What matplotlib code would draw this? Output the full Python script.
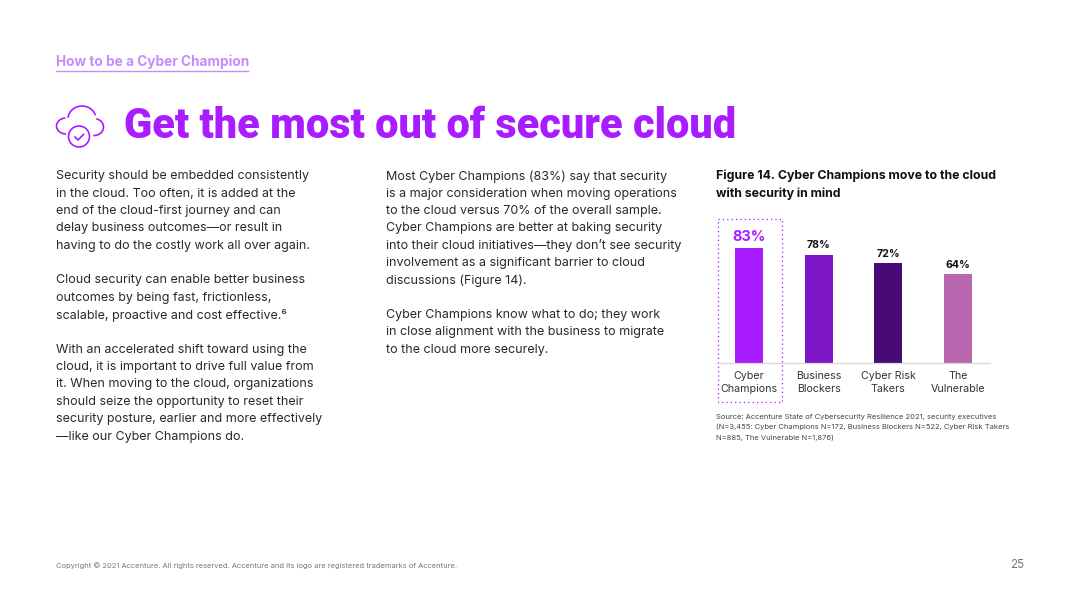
import matplotlib
matplotlib.use("Agg")
import matplotlib.pyplot as plt
from matplotlib.patches import Arc, Circle, Rectangle

plt.rcParams["font.family"] = ["Inter", "Noto Sans", "DejaVu Sans"]

categories = ["Cyber\nChampions", "Business\nBlockers", "Cyber Risk\nTakers", "The\nVulnerable"]
values = [83, 78, 72, 64]
bar_colors = ["#A81CFF", "#7F17C9", "#4A0A75", "#B866AE"]

column_1 = [
    "Security should be embedded consistently",
    "in the cloud. Too often, it is added at the",
    "end of the cloud-first journey and can",
    "delay business outcomes\u2014or result in",
    "having to do the costly work all over again.",
    "",
    "Cloud security can enable better business",
    "outcomes by being fast, frictionless,",
    "scalable, proactive and cost effective.\u2076",
    "",
    "With an accelerated shift toward using the",
    "cloud, it is important to drive full value from",
    "it. When moving to the cloud, organizations",
    "should seize the opportunity to reset their",
    "security posture, earlier and more effectively",
    "\u2014like our Cyber Champions do.",
]
column_2 = [
    "Most Cyber Champions (83%) say that security",
    "is a major consideration when moving operations",
    "to the cloud versus 70% of the overall sample.",
    "Cyber Champions are better at baking security",
    "into their cloud initiatives\u2014they don\u2019t see security",
    "involvement as a significant barrier to cloud",
    "discussions (Figure 14).",
    "",
    "Cyber Champions know what to do; they work",
    "in close alignment with the business to migrate",
    "to the cloud more securely.",
]
source_lines = [
    "Source: Accenture State of Cybersecurity Resilience 2021, security executives",
    "(N=3,455: Cyber Champions N=172, Business Blockers N=522, Cyber Risk Takers",
    "N=885, The Vulnerable N=1,876)",
]

fig = plt.figure(figsize=(10.8, 6.09), dpi=100, facecolor="white")

# page layer in pixel coordinates for all the slide text
page = fig.add_axes([0, 0, 1, 1])
page.set_xlim(0, 1080)
page.set_ylim(609, 0)
page.axis("off")

PURPLE = "#A81CFF"
DARK = "#2a2a2a"

page.text(56, 61.5, "How to be a Cyber Champion", color="#C58BFF", fontsize=9.8,
          fontweight="bold", va="center")
page.plot([56, 248], [70.5, 70.5], color="#C58BFF", lw=1)
page.text(124, 126, "Get the most out of secure cloud", color=PURPLE, fontsize=29.9,
          fontweight="black", va="center", family=["Roboto", "DejaVu Sans"])

# cloud icon
icon = dict(color=PURPLE, lw=1.2, fill=False)
page.add_patch(Arc((82, 119), 28, 26, theta1=185, theta2=345, **icon))
page.add_patch(Arc((66, 126), 19, 16, theta1=90, theta2=265, **icon))
page.add_patch(Arc((94, 127), 19, 17, theta1=-75, theta2=95, **icon))
page.add_patch(Circle((79, 136.5), 10.5, **icon))
page.plot([75, 78, 83.5], [137, 140, 134.5], color=PURPLE, lw=1.2)

for i, line in enumerate(column_1):
    page.text(56, 176.3 + i * 17.35, line, color=DARK, fontsize=9.0, va="center")
for i, line in enumerate(column_2):
    page.text(386, 176.3 + i * 17.35, line, color=DARK, fontsize=9.0, va="center")

page.text(716, 176, "Figure 14. Cyber Champions move to the cloud", color="#111111",
          fontsize=8.9, fontweight="bold", va="center")
page.text(716, 193.5, "with security in mind", color="#111111", fontsize=8.9,
          fontweight="bold", va="center")

for i, line in enumerate(source_lines):
    page.text(716, 416.5 + i * 10.6, line, color="#444444", fontsize=5.45, va="center")

page.text(56, 565.5, "Copyright \u00a9 2021 Accenture. All rights reserved. Accenture and its logo are registered trademarks of Accenture.",
          color="#777777", fontsize=5.42, va="center")
page.text(1024, 564.5, "25", color="#777777", fontsize=8.4, va="center", ha="right")

# dotted box round the first category
page.add_patch(Rectangle((717.5, 218.5), 64.5, 183.5, fill=False, edgecolor=PURPLE,
                         lw=0.9, ls=(0, (1, 2.5))))

# chart layer, placed so the baseline sits at y=363
ax = fig.add_axes([716 / 1080, (609 - 363) / 609, 274 / 1080, 144 / 609])
ax.patch.set_alpha(0)
x = list(range(len(values)))
ax.bar(x, values, width=0.40, color=bar_colors)
ax.set_xlim(-0.474, 3.46)
ax.set_ylim(0, 103.6)
ax.set_yticks([])
ax.set_xticks(x)
ax.set_xticklabels(categories, fontsize=7.7, color="#333333", linespacing=1.32)
ax.tick_params(axis="x", length=0, pad=6)
for side in ["top", "left", "right"]:
    ax.spines[side].set_visible(False)
ax.spines["bottom"].set_color("#D8D8D8")
ax.spines["bottom"].set_linewidth(0.9)

for i, v in enumerate(values):
    if i == 0:
        ax.text(i, v + 2.8, f"{v}%", color=PURPLE, fontsize=10.4, fontweight="bold",
                ha="center", va="bottom")
    else:
        ax.text(i, v + 3.0, f"{v}%", color="#111111", fontsize=7.6, fontweight="bold",
                ha="center", va="bottom")

fig.savefig("out.png", dpi=100)
